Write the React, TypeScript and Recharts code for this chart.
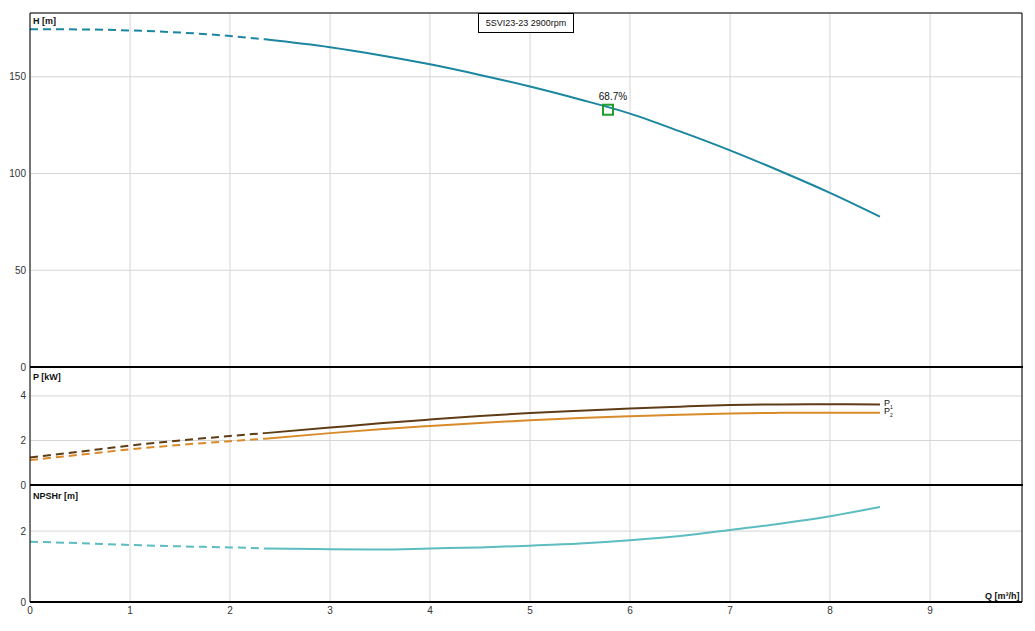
import React from "react";
import {
  CartesianGrid,
  Line,
  LineChart,
  ReferenceDot,
  ReferenceLine,
  XAxis,
  YAxis,
} from "recharts";

// flow points (m³/h); the dashed part of each curve ends at the split point
const flow = [0, 0.5, 1, 1.5, 2, 2.35, 3, 3.5, 4, 4.5, 5, 5.5, 6, 6.5, 7, 7.5, 8, 8.5];
const splitAt = 2.35;

const head = [174.6, 174.5, 174.0, 172.9, 171.1, 169.4, 165.3, 161.2, 156.5, 151.0, 145.0, 138.3, 131.0, 121.8, 112.0, 101.3, 90.0, 77.7];
const power1 = [1.24, 1.5, 1.77, 2.0, 2.2, 2.33, 2.58, 2.77, 2.94, 3.1, 3.23, 3.34, 3.44, 3.52, 3.59, 3.62, 3.63, 3.62];
const power2 = [1.12, 1.36, 1.6, 1.8, 1.97, 2.08, 2.33, 2.5, 2.65, 2.79, 2.91, 3.01, 3.09, 3.16, 3.21, 3.24, 3.25, 3.24];
const npsh = [1.7, 1.66, 1.61, 1.57, 1.54, 1.51, 1.49, 1.48, 1.51, 1.54, 1.59, 1.65, 1.74, 1.86, 2.03, 2.21, 2.42, 2.68];

const qTicks = [0, 1, 2, 3, 4, 5, 6, 7, 8, 9];
const hTicks = [0, 50, 100, 150];
const pTicks = [0, 2, 4];
const nTicks = [0, 2];

const bepQ = 5.78;
const bepH = 133;
const bepLabel = "68.7%";

const Q_MAX = 9.92;

const split = (vals: number[]) =>
  flow.map((q, i) => ({
    q,
    dash: q <= splitAt ? vals[i] : undefined,
    solid: q >= splitAt ? vals[i] : undefined,
  }));

const headData = split(head);
const npshData = split(npsh);
const powerData = flow.map((q, i) => ({
  q,
  p1Dash: q <= splitAt ? power1[i] : undefined,
  p1: q >= splitAt ? power1[i] : undefined,
  p2Dash: q <= splitAt ? power2[i] : undefined,
  p2: q >= splitAt ? power2[i] : undefined,
}));

const FONT = "'Liberation Sans', Arial, sans-serif";
const tick = { fontSize: 10, fill: "#333", fontFamily: FONT };
const GRID = "#d4d4d4";
const HEAD_C = "#1a86a0";
const NPSH_C = "#5cbcc0";
const P1_C = "#5e3c16";
const P2_C = "#d98b2b";
const DASH = "8 5";

const label = (left: number, top: number, bold = true): React.CSSProperties => ({
  position: "absolute",
  left,
  top,
  fontSize: 9,
  fontWeight: bold ? "bold" : "normal",
  fontFamily: FONT,
  color: "#111",
  lineHeight: "10px",
  whiteSpace: "nowrap",
});

const divider = (top: number): React.CSSProperties => ({
  position: "absolute",
  left: 30,
  top,
  width: 993,
  height: 2,
  background: "#000",
});

function BepMarker(props: any) {
  const { cx, cy } = props;
  return (
    <g>
      <rect x={cx - 5} y={cy - 5} width={10} height={10} fill="none" stroke="#1e9e2a" strokeWidth={2} />
      <text x={cx + 5} y={cy - 10} textAnchor="middle" fontSize={10} fontFamily={FONT} fill="#111">
        {bepLabel}
      </text>
    </g>
  );
}

export default function App() {
  return (
    <div style={{ position: "absolute", left: 0, top: 0, width: 1035, height: 631, background: "#fff" }}>
      <style>{"svg.recharts-surface{overflow:visible}"}</style>
      {/* head */}
      <div style={{ position: "absolute", left: 0, top: 0 }}>
        <LineChart width={1035} height={367} data={headData} margin={{ top: 13, right: 13, bottom: 0, left: 0 }}>
          <CartesianGrid stroke={GRID} />
          <XAxis type="number" dataKey="q" domain={[0, Q_MAX]} ticks={qTicks} hide />
          <YAxis
            type="number"
            domain={[0, 183]}
            ticks={hTicks}
            interval={0}
            width={30}
            tick={tick}
            tickSize={0}
            tickMargin={4}
            axisLine={{ stroke: "#000" }}
            allowDataOverflow
          />
          <ReferenceLine y={183} stroke="#000" />
          <ReferenceLine x={Q_MAX} stroke="#000" />
          <Line dataKey="dash" type="monotone" stroke={HEAD_C} strokeWidth={2} strokeDasharray={DASH} dot={false} isAnimationActive={false} />
          <Line dataKey="solid" type="monotone" stroke={HEAD_C} strokeWidth={2} dot={false} isAnimationActive={false} />
          <ReferenceDot x={bepQ} y={bepH} shape={BepMarker} />
        </LineChart>
      </div>

      {/* power */}
      <div style={{ position: "absolute", left: 0, top: 367 }}>
        <LineChart width={1035} height={118} data={powerData} margin={{ top: 0, right: 13, bottom: 0, left: 0 }}>
          <CartesianGrid stroke={GRID} />
          <XAxis type="number" dataKey="q" domain={[0, Q_MAX]} ticks={qTicks} hide />
          <YAxis
            type="number"
            domain={[0, 5.3]}
            ticks={pTicks}
            interval={0}
            width={30}
            tick={tick}
            tickSize={0}
            tickMargin={4}
            axisLine={{ stroke: "#000" }}
          />
          <ReferenceLine x={Q_MAX} stroke="#000" />
          <Line dataKey="p1Dash" type="monotone" stroke={P1_C} strokeWidth={2} strokeDasharray={DASH} dot={false} isAnimationActive={false} />
          <Line dataKey="p1" type="monotone" stroke={P1_C} strokeWidth={2} dot={false} isAnimationActive={false} />
          <Line dataKey="p2Dash" type="monotone" stroke={P2_C} strokeWidth={2} strokeDasharray={DASH} dot={false} isAnimationActive={false} />
          <Line dataKey="p2" type="monotone" stroke={P2_C} strokeWidth={2} dot={false} isAnimationActive={false} />
        </LineChart>
      </div>

      {/* NPSH */}
      <div style={{ position: "absolute", left: 0, top: 485 }}>
        <LineChart width={1035} height={146} data={npshData} margin={{ top: 0, right: 13, bottom: 9, left: 0 }}>
          <CartesianGrid stroke={GRID} />
          <XAxis
            type="number"
            dataKey="q"
            domain={[0, Q_MAX]}
            ticks={qTicks}
            interval={0}
            height={20}
            tick={tick}
            tickSize={0}
            tickMargin={5}
            axisLine={{ stroke: "#000", strokeWidth: 2 }}
          />
          <YAxis
            type="number"
            domain={[0, 3.3]}
            ticks={nTicks}
            interval={0}
            width={30}
            tick={tick}
            tickSize={0}
            tickMargin={4}
            axisLine={{ stroke: "#000" }}
          />
          <ReferenceLine x={Q_MAX} stroke="#000" />
          <Line dataKey="dash" type="monotone" stroke={NPSH_C} strokeWidth={2} strokeDasharray={DASH} dot={false} isAnimationActive={false} />
          <Line dataKey="solid" type="monotone" stroke={NPSH_C} strokeWidth={2} dot={false} isAnimationActive={false} />
        </LineChart>
      </div>

      <div style={divider(366)} />
      <div style={divider(484)} />

      <div style={label(33, 16)}>H [m]</div>
      <div style={label(33, 372)}>P [kW]</div>
      <div style={label(33, 491)}>NPSHr [m]</div>
      <div style={label(985, 591)}>Q [m³/h]</div>
      <div style={label(884, 398, false)}>
        P<sub style={{ fontSize: 5 }}>1</sub>
      </div>
      <div style={label(884, 406, false)}>
        P<sub style={{ fontSize: 5 }}>2</sub>
      </div>
      <div
        style={{
          position: "absolute",
          left: 478,
          top: 13,
          width: 94,
          height: 18,
          border: "1px solid #000",
          background: "#fff",
          fontSize: 9,
          fontFamily: FONT,
          lineHeight: "18px",
          textAlign: "center",
          color: "#111",
        }}
      >
        5SVI23-23 2900rpm
      </div>
    </div>
  );
}
